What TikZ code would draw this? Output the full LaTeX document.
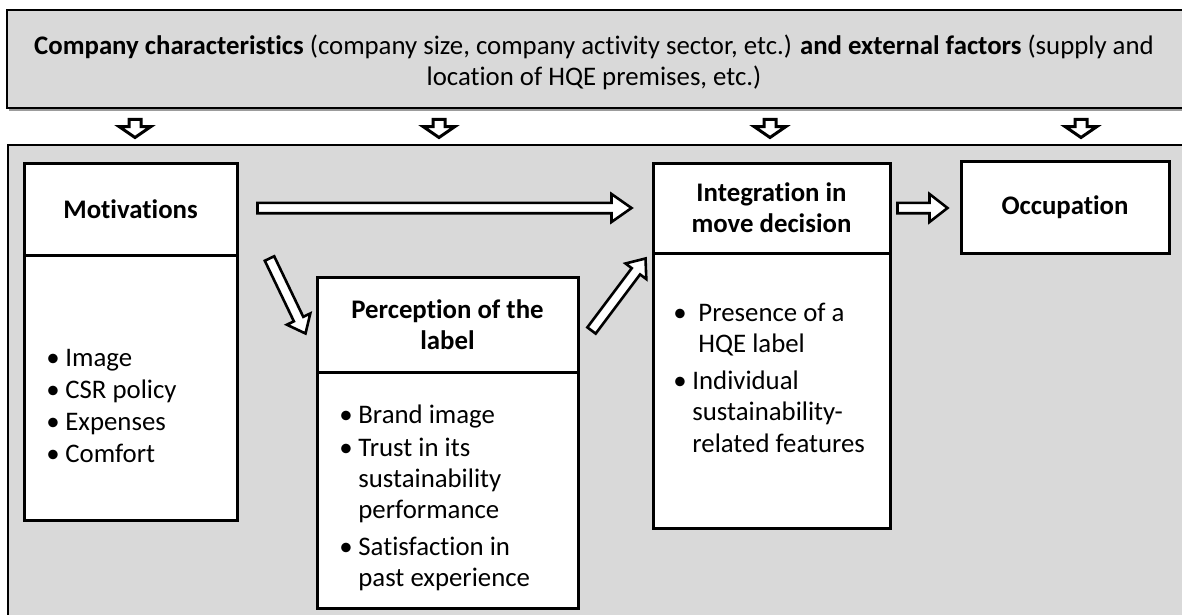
\documentclass[tikz,border=0pt]{standalone}
\usepackage{fontspec}
\setmainfont{Carlito}[Ligatures=NoCommon]
\usetikzlibrary{calc,positioning}

\definecolor{boxgray}{HTML}{D9D9D9}
\definecolor{shadowgray}{HTML}{9C9C9C}

\newcommand{\bul}{\makebox[9.5pt][l]{\textbullet}}
\newcommand{\ind}{\hspace*{9.5pt}}
% hollow block arrow: [style]{from}{to}{shaft half width}{head half width}{head length}
\newcommand{\hollowarrow}[6][]{%
  \coordinate (ha-neck) at ($(#3)!#6!(#2)$);
  \draw[hollow,#1] ($(#2)!#4!90:(#3)$) -- ($(ha-neck)!#4!-90:(#2)$) -- ($(ha-neck)!#5!-90:(#2)$)
    -- (#3) -- ($(ha-neck)!#5!90:(#2)$) -- ($(ha-neck)!#4!90:(#2)$) -- ($(#2)!#4!-90:(#3)$) -- cycle;}

\begin{document}
\begin{tikzpicture}[x=0.5pt,y=-0.5pt,font=\fontsize{13.4}{15.6}\selectfont]

\tikzset{
	panel/.style={draw=black, line width=0.9pt, fill=boxgray, inner sep=0pt},
	hdr/.style={draw=black, line width=1.5pt, fill=white, align=center,
		font=\fontsize{13.4}{15.6}\selectfont\bfseries, inner sep=0pt},
	body/.style={draw=black, line width=1.5pt, fill=white, inner sep=0pt},
	list/.style={inner sep=0pt, anchor=north west},
	hollow/.style={draw=black, fill=white, line width=1.3pt, line join=miter},
	dropper/.style={line width=1.5pt}
}
\useasboundingbox (0,0) rectangle (1182,615);
\clip (0,0) rectangle (1182,615);

% top banner
\fill[shadowgray] (9,12) rectangle (1210,111);
\node[panel, anchor=north west, minimum width=600pt, minimum height=49pt] (factors) at (6,9) {};
\node[align=center, inner sep=0pt] (factorstext) at (594,62)
	{\textbf{Company characteristics} (company size, company activity sector, etc.) \textbf{and external factors} (supply and\\
	location of HQE premises, etc.)};

% main frame
\node[panel, anchor=north west, minimum width=600pt, minimum height=250pt] (frame) at (7,144) {};

\foreach \x [count=\i] in {135,439,770,1081} {
	\coordinate (dn\i a) at (\x,119.5);
	\coordinate (dn\i b) at (\x,137.5);
	\hollowarrow[dropper]{dn\i a}{dn\i b}{3pt}{8pt}{5.5pt}
}

% boxes
\node[hdr, minimum width=106.5pt, minimum height=46pt] (mot) at (130.5,209) {Motivations};
\node[body, minimum width=106.5pt, minimum height=132.5pt] (motbody) at (130.5,387.5) {};
\node[hdr, minimum width=130.5pt, minimum height=47.5pt] (perc) at (447.5,324.5) {Perception of the\\label};
\node[body, minimum width=130.5pt, minimum height=118pt] (percbody) at (447.5,490) {};
\node[hdr, minimum width=118.5pt, minimum height=45pt] (integ) at (771.5,208) {Integration in\\move decision};
\node[body, minimum width=118.5pt, minimum height=137.5pt] (integbody) at (771.5,390.5) {};
\node[hdr, minimum width=104pt, minimum height=46pt] (occ) at (1065,207) {Occupation};

% lists
\node[list] (motlist) at (46,344) {\begin{tabular}{@{}l@{}}
	\bul Image\\[0.5pt]
	\bul CSR policy\\[0.5pt]
	\bul Expenses\\[0.5pt]
	\bul Comfort
\end{tabular}};
\node[list] (perclist) at (339,401) {\begin{tabular}{@{}l@{}}
	\bul Brand image\\[1pt]
	\bul Trust in its\\
	\ind sustainability\\
	\ind performance\\[2.5pt]
	\bul Satisfaction in\\
	\ind past experience
\end{tabular}};
\node[list] (integlist) at (673,299) {\begin{tabular}{@{}l@{}}
	\bul\ Presence of a\\
	\ind\ HQE label\\[3pt]
	\bul Individual\\
	\ind sustainability-\\
	\ind related features
\end{tabular}};

% flow arrows
\coordinate (f1a) at ($(mot.east)+(19,-1)$);
\coordinate (f1b) at ($(integ.west)+(-20,0)$);
\coordinate (f2a) at ($(integ.east)+(6,0)$);
\coordinate (f2b) at ($(occ.west)+(-12,1)$);
\coordinate (f3a) at ($(mot.south east)+(31,2)$);
\coordinate (f3b) at ($(perc.north west)+(-10,58)$);
\coordinate (f4a) at ($(perc.north east)+(12,55)$);
\coordinate (f4b) at ($(integbody.north west)+(-6,7)$);
\hollowarrow{f1a}{f1b}{2.6pt}{7pt}{10pt}
\hollowarrow{f2a}{f2b}{2.6pt}{7pt}{9pt}
\hollowarrow{f3a}{f3b}{2.6pt}{6.5pt}{8pt}
\hollowarrow{f4a}{f4b}{2.6pt}{6.5pt}{8pt}

\end{tikzpicture}
\end{document}
